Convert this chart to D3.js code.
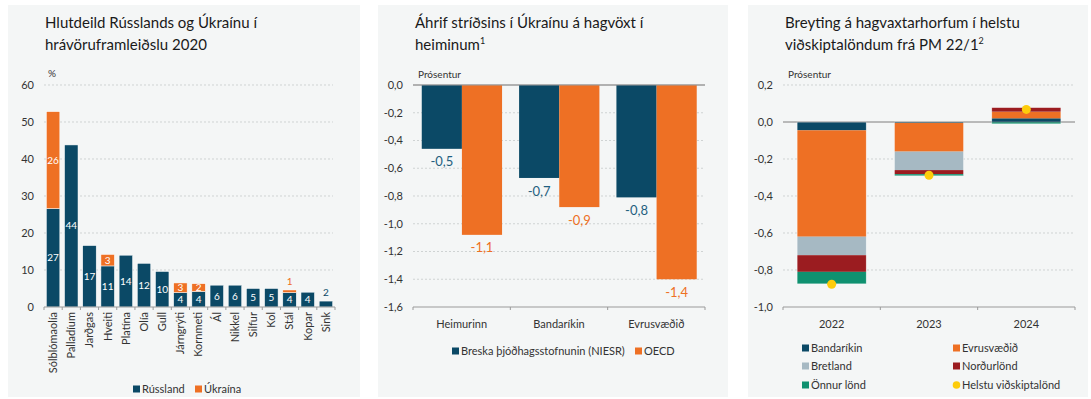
<!DOCTYPE html>
<html>
<head>
<meta charset="utf-8">
<script src="https://cdn.jsdelivr.net/npm/d3@7"></script>
<style>
  body { margin: 0; background: #fff; }
  svg { display: block; font-family: Lato, "Noto Sans", sans-serif; }
</style>
</head>
<body>
<svg id="chart" width="1091" height="399"></svg>
<script>
// ---- Panel 1: share of Russia and Ukraine in commodity production 2020 (%)
const commodities = ["Sólblómaolía","Palladíum","Jarðgas","Hveiti","Platína","Olía","Gull","Járngrýti","Kornmeti","Ál","Nikkel","Silfur","Kol","Stál","Kopar","Sink"];
const russiaShare  = [26.6, 43.8, 16.6, 11.1, 14.0, 11.8, 9.6, 3.9, 4.2, 5.9, 5.9, 5.0, 5.0, 3.9, 4.0, 1.6];
const ukraineShare = [26.2, 0, 0, 3.1, 0, 0, 0, 2.6, 2.1, 0, 0, 0, 0, 0.7, 0, 0];
const shareTicks = [0, 10, 20, 30, 40, 50, 60];

// ---- Panel 2: impact of the war on world growth (percentage points)
const regions = ["Heimurinn", "Bandaríkin", "Evrusvæðið"];
const niesrImpact = [-0.46, -0.67, -0.81];
const oecdImpact  = [-1.08, -0.88, -1.40];
const impactTicks = [0, -0.2, -0.4, -0.6, -0.8, -1.0, -1.2, -1.4, -1.6];

// ---- Panel 3: revisions to growth outlook of main trading partners
const years = ["2022", "2023", "2024"];
const usRevision     = [-0.045, -0.005, 0.020];
const euroRevision   = [-0.575, -0.155, 0.036];
const ukRevision     = [-0.100, -0.100, 0.000];
const nordicRevision = [-0.090, -0.022, 0.022];
const otherRevision  = [-0.065, -0.009, -0.010];
const partnersTotal  = [-0.877, -0.288, 0.068];
const revisionTicks = [0.2, 0, -0.2, -0.4, -0.6, -0.8, -1.0];

const C = {
  navy: "#0b4966", orange: "#ee7024", ukGray: "#a6b9c3",
  nordic: "#9b1c20", teal: "#0f9170", gold: "#fdcc0b",
  panel: "#f4f6f6", grid: "#cfd3d3", zero: "#9a9a9a", text: "#333"
};

const is = d3.formatLocale({ decimal: ",", thousands: ".", grouping: [3], currency: ["", ""], minus: "-" });
const fmt1 = is.format(".1f");
const fmt0 = is.format(".0f");

const svg = d3.select("#chart");

// panel backgrounds
[[8, 5, 352], [378, 5, 350], [748, 5, 340]].forEach(([x, y, w]) => {
  svg.append("rect").attr("x", x).attr("y", y).attr("width", w).attr("height", 392).attr("fill", C.panel);
});

function title(x, lines, sup) {
  const t = svg.append("text").attr("x", x).attr("y", 28)
    .attr("font-size", 15).attr("fill", "#1a1a1a");
  lines.forEach((l, i) => {
    const ts = t.append("tspan").attr("x", x).attr("dy", i === 0 ? 0 : 22).text(l);
  });
  if (sup) {
    t.append("tspan").attr("font-size", 9).attr("dy", -6).text(sup);
  }
}

function yAxis(y, ticks, x0, x1, f, zeroSolid) {
  const g = svg.append("g");
  ticks.forEach(v => {
    const py = y(v);
    const isZero = Math.abs(v) < 1e-9;
    const isBottom = v === d3.min(ticks);
    if (!isBottom) {
      g.append("line").attr("x1", x0).attr("x2", x1).attr("y1", py).attr("y2", py)
        .attr("stroke", isZero && zeroSolid ? C.zero : C.grid)
        .attr("stroke-width", 1)
        .attr("stroke-dasharray", isZero && zeroSolid ? null : "2,2");
    }
    g.append("text").attr("x", x0 - 10).attr("y", py).attr("dy", "0.35em")
      .attr("text-anchor", "end").attr("font-size", 11).attr("fill", C.text).text(f(v));
  });
}

function bottomAxis(x, py, n) {
  const g = svg.append("g");
  const [r0, r1] = x.range();
  g.append("line").attr("x1", r0).attr("x2", r1).attr("y1", py).attr("y2", py)
    .attr("stroke", C.zero);
  const step = x.step();
  const start = x(x.domain()[0]) - step * x.paddingOuter();
  for (let i = 0; i <= n; i++) {
    const px = Math.min(start + i * step, r1);
    g.append("line").attr("x1", px).attr("x2", px).attr("y1", py).attr("y2", py + 3).attr("stroke", C.zero);
  }
}

function legendItem(x, y, color, label, circle) {
  if (circle) {
    svg.append("circle").attr("cx", x + 3.5).attr("cy", y).attr("r", 3.8).attr("fill", color);
  } else {
    svg.append("rect").attr("x", x).attr("y", y - 3.5).attr("width", 7).attr("height", 7).attr("fill", color);
  }
  svg.append("text").attr("x", x + 9).attr("y", y).attr("dy", "0.35em")
    .attr("font-size", 11).attr("fill", C.text).text(label);
}

// ================= Panel 1 =================
{
  title(45, ["Hlutdeild Rússlands og Úkraínu í", "hrávöruframleiðslu 2020"]);
  svg.append("text").attr("x", 48).attr("y", 77).attr("font-size", 10).attr("fill", C.text).text("%");

  const x = d3.scaleBand().domain(commodities).range([44, 335]).paddingInner(0.26).paddingOuter(0.13);
  const y = d3.scaleLinear().domain([0, 60]).range([307, 85]);
  yAxis(y, shareTicks, 44, 333, fmt0, false);

  const rows = commodities.map((c, i) => ({ c, ru: russiaShare[i], ua: ukraineShare[i] }));
  const g = svg.append("g");
  rows.forEach(d => {
    const bx = x(d.c), bw = x.bandwidth();
    g.append("rect").attr("x", bx).attr("width", bw)
      .attr("y", y(d.ru)).attr("height", y(0) - y(d.ru))
      .attr("fill", C.navy).attr("stroke", "#fff").attr("stroke-width", 0.5);
    if (d.ua > 0) {
      g.append("rect").attr("x", bx).attr("width", bw)
        .attr("y", y(d.ru + d.ua)).attr("height", y(d.ru) - y(d.ru + d.ua))
        .attr("fill", C.orange).attr("stroke", "#fff").attr("stroke-width", 0.5);
    }
    // value labels
    const segs = [[0, d.ru, C.navy], [d.ru, d.ru + d.ua, C.orange]];
    segs.forEach(([a, b, col]) => {
      if (b - a <= 0) return;
      const h = y(a) - y(b);
      const t = g.append("text").attr("x", bx + bw / 2).attr("text-anchor", "middle")
        .attr("font-size", 10).text(fmt0(b - a));
      if (h < 7) {
        t.attr("y", y(b) - 5).attr("fill", col);
      } else {
        t.attr("y", (y(a) + y(b)) / 2).attr("dy", "0.35em").attr("fill", "#fff");
      }
    });
  });

  bottomAxis(x, 307, commodities.length);
  commodities.forEach(c => {
    svg.append("text")
      .attr("transform", `translate(${x(c) + x.bandwidth() / 2},312) rotate(-90)`)
      .attr("text-anchor", "end").attr("dy", "0.35em")
      .attr("font-size", 11).attr("fill", C.text).text(c);
  });

  legendItem(133, 389, C.navy, "Rússland");
  legendItem(195, 389, C.orange, "Úkraína");
}

// ================= Panel 2 =================
{
  title(415, ["Áhrif stríðsins í Úkraínu á hagvöxt í", "heiminum"], "1");
  svg.append("text").attr("x", 418).attr("y", 78).attr("font-size", 10).attr("fill", C.text).text("Prósentur");

  const x0 = d3.scaleBand().domain(regions).range([413, 705]).paddingInner(0).paddingOuter(0);
  const series = ["NIESR", "OECD"];
  const x1 = d3.scaleBand().domain(series).range([x0.bandwidth() * 0.09, x0.bandwidth() * 0.915]);
  const y = d3.scaleLinear().domain([-1.6, 0]).range([307, 85]);
  yAxis(y, impactTicks, 413, 705, fmt1, true);

  const vals = { NIESR: niesrImpact, OECD: oecdImpact };
  const colors = { NIESR: C.navy, OECD: C.orange };
  const labelColors = { NIESR: "#1f5f80", OECD: C.orange };
  regions.forEach((r, i) => {
    series.forEach(s => {
      const v = vals[s][i];
      const bx = x0(r) + x1(s);
      svg.append("rect").attr("x", bx).attr("width", x1.bandwidth())
        .attr("y", y(0)).attr("height", y(v) - y(0)).attr("fill", colors[s]);
      svg.append("text").attr("x", bx + x1.bandwidth() / 2).attr("y", y(v) + 13)
        .attr("dy", "0.35em").attr("text-anchor", "middle")
        .attr("font-size", 13).attr("fill", labelColors[s]).text(fmt1(v));
    });
  });
  // redraw zero line over bars
  svg.append("line").attr("x1", 413).attr("x2", 705).attr("y1", y(0)).attr("y2", y(0)).attr("stroke", C.zero);

  bottomAxis(x0, 307, regions.length);
  regions.forEach(r => {
    svg.append("text").attr("x", x0(r) + x0.bandwidth() / 2).attr("y", 324).attr("dy", "0.35em")
      .attr("text-anchor", "middle").attr("font-size", 11).attr("fill", C.text).text(r);
  });

  legendItem(452, 351, C.navy, "Breska þjóðhagsstofnunin (NIESR)");
  legendItem(635, 351, C.orange, "OECD");
}

// ================= Panel 3 =================
{
  title(785, ["Breyting á hagvaxtarhorfum í helstu", "viðskiptalöndum frá PM 22/1"], "2");
  svg.append("text").attr("x", 788).attr("y", 78).attr("font-size", 10).attr("fill", C.text).text("Prósentur");

  const x = d3.scaleBand().domain(years).range([783, 1075]).paddingInner(0.29).paddingOuter(0.145);
  const y = d3.scaleLinear().domain([-1.0, 0.2]).range([307, 85]);
  yAxis(y, revisionTicks, 783, 1075, fmt1, true);

  const keys = ["Bandaríkin", "Evrusvæðið", "Bretland", "Norðurlönd", "Önnur lönd"];
  const src = [usRevision, euroRevision, ukRevision, nordicRevision, otherRevision];
  const colors = [C.navy, C.orange, C.ukGray, C.nordic, C.teal];
  const table = years.map((yr, i) => {
    const o = { year: yr };
    keys.forEach((k, j) => { o[k] = src[j][i]; });
    return o;
  });
  const stack = d3.stack().keys(keys).offset(d3.stackOffsetDiverging)(table);

  stack.forEach((layer, j) => {
    svg.append("g").attr("fill", colors[j]).selectAll("rect").data(layer).join("rect")
      .attr("x", d => x(d.data.year)).attr("width", x.bandwidth())
      .attr("y", d => y(Math.max(d[0], d[1])))
      .attr("height", d => Math.abs(y(d[0]) - y(d[1])));
  });
  // outline so thin segments read as separate bands
  years.forEach((yr, i) => {
    const lo = d3.min(stack, l => l[i][0]), hi = d3.max(stack, l => l[i][1]);
    svg.append("rect").attr("x", x(yr)).attr("width", x.bandwidth())
      .attr("y", y(hi)).attr("height", y(lo) - y(hi))
      .attr("fill", "none").attr("stroke", "#fff").attr("stroke-width", 0.6).attr("stroke-opacity", 0.7);
  });
  svg.append("line").attr("x1", 783).attr("x2", 1075).attr("y1", y(0)).attr("y2", y(0))
    .attr("stroke", C.zero).attr("stroke-opacity", 0.6);

  svg.append("g").selectAll("circle").data(partnersTotal).join("circle")
    .attr("cx", (d, i) => x(years[i]) + x.bandwidth() / 2).attr("cy", d => y(d))
    .attr("r", 4.5).attr("fill", C.gold);

  bottomAxis(x, 307, years.length);
  years.forEach(yr => {
    svg.append("text").attr("x", x(yr) + x.bandwidth() / 2).attr("y", 324).attr("dy", "0.35em")
      .attr("text-anchor", "middle").attr("font-size", 11).attr("fill", C.text).text(yr);
  });

  const lx = [802, 953], ly = [348, 366, 385];
  legendItem(lx[0], ly[0], C.navy, "Bandaríkin");
  legendItem(lx[1], ly[0], C.orange, "Evrusvæðið");
  legendItem(lx[0], ly[1], C.ukGray, "Bretland");
  legendItem(lx[1], ly[1], C.nordic, "Norðurlönd");
  legendItem(lx[0], ly[2], C.teal, "Önnur lönd");
  legendItem(lx[1], ly[2], C.gold, "Helstu viðskiptalönd", true);
}
</script>
</body>
</html>
